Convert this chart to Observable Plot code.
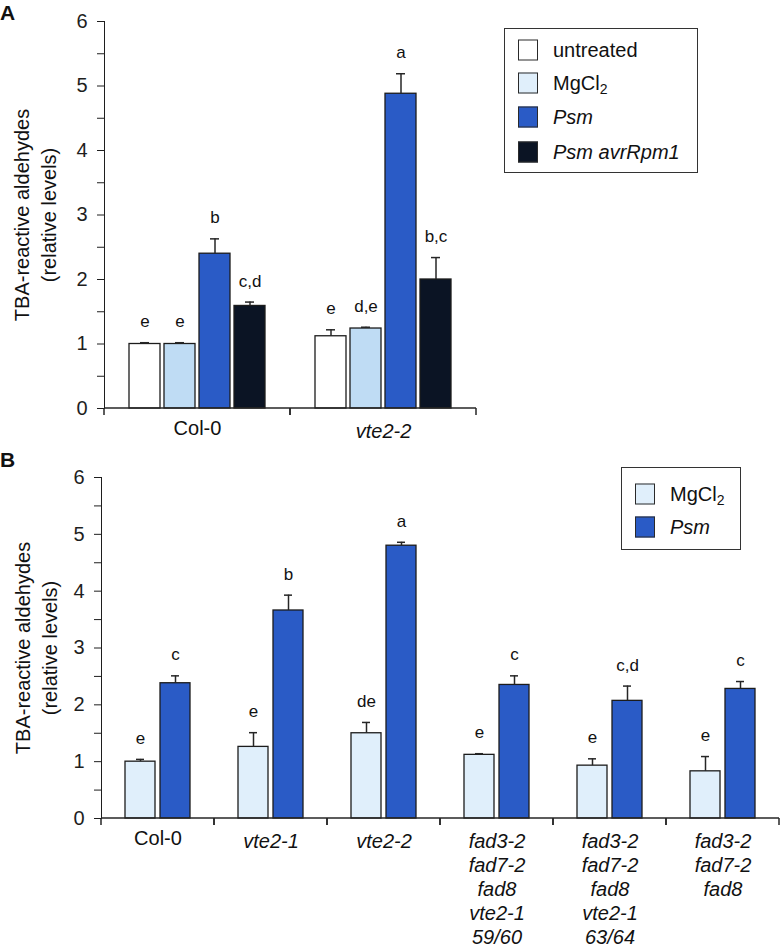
<!DOCTYPE html>
<html><head><meta charset="utf-8">
<script src="https://cdn.jsdelivr.net/npm/d3@7"></script>
<script src="https://cdn.jsdelivr.net/npm/@observablehq/plot@0.6"></script>
<style>
body{margin:0;background:#fff;font-family:"Liberation Sans",Arial,sans-serif;color:#111;}
#wrap{position:relative;width:782px;height:950px;}
.panel svg{display:block;}
.plabel{position:absolute;left:0;font-weight:bold;font-size:21px;line-height:1;}
.legend{position:absolute;border:1.5px solid #333;background:#fff;font-size:20px;color:#111;box-sizing:border-box;}
.legend .row{position:absolute;left:13px;display:flex;align-items:center;transform:translateY(-50%);}
.legend .sw{width:20px;height:21px;border:1.3px solid #2a2a2a;box-sizing:border-box;margin-right:15px;}
.legend sub{font-size:14px;vertical-align:-4px;line-height:0;}
</style></head><body>
<div id="wrap">
  <div id="pa" class="panel"></div>
  <div id="pb" class="panel"></div>
</div>
<script>
// ---------- Panel A data ----------
const groupsA = ["Col-0", "vte2-2"];
const seriesA = ["untreated", "MgCl2", "Psm", "Psm avrRpm1"];
const untreatedA = [1.00, 1.12];
const untreatedErrA = [0.02, 0.10];
const mgA = [1.00, 1.24];
const mgErrA = [0.02, 0.02];
const psmA = [2.40, 4.88];
const psmErrA = [0.23, 0.31];
const avrA = [1.59, 2.00];
const avrErrA = [0.06, 0.34];
const lettersA = {
  "untreated": ["e", "e"],
  "MgCl2": ["e", "d,e"],
  "Psm": ["b", "a"],
  "Psm avrRpm1": ["c,d", "b,c"]
};
const colorsA = ["#ffffff", "#bfdcf4", "#2a5bc6", "#0b1424"];

// ---------- Panel B data ----------
const groupsB = ["Col-0", "vte2-1", "vte2-2",
  "fad3-2\nfad7-2\nfad8\nvte2-1\n59/60",
  "fad3-2\nfad7-2\nfad8\nvte2-1\n63/64",
  "fad3-2\nfad7-2\nfad8"];
const seriesB = ["MgCl2", "Psm"];
const mgB = [1.00, 1.26, 1.50, 1.12, 0.93, 0.83];
const mgErrB = [0.04, 0.25, 0.19, 0.02, 0.12, 0.26];
const psmB = [2.38, 3.66, 4.80, 2.35, 2.07, 2.28];
const psmErrB = [0.13, 0.27, 0.06, 0.16, 0.26, 0.13];
const lettersB = {
  "MgCl2": ["e", "e", "de", "e", "e", "e"],
  "Psm": ["c", "b", "a", "c", "c,d", "c"]
};
const colorsB = ["#e0effb", "#2a5bc6"];

const yTicks = [0, 0.5, 1, 1.5, 2, 2.5, 3, 3.5, 4, 4.5, 5, 5.5, 6];
const yLabel = "TBA-reactive aldehydes\n(relative levels)";

function buildRows(groups, seriesList, vals, errs, letters) {
  const rows = [];
  groups.forEach((g, i) => {
    seriesList.forEach((s, j) => {
      const v = vals[j][i];
      rows.push({group: g, series: s, value: v, hi: v + errs[j][i], letter: letters[s][i]});
    });
  });
  return rows;
}

const rowsA = buildRows(groupsA, seriesA, [untreatedA, mgA, psmA, avrA],
  [untreatedErrA, mgErrA, psmErrA, avrErrA], lettersA);
const rowsB = buildRows(groupsB, seriesB, [mgB, psmB], [mgErrB, psmErrB], lettersB);

// x-axis baseline with boundary ticks, drawn in each facet
function baseAxis(index, scales, values, dims) {
  const {width, marginLeft, marginRight} = dims;
  const y0 = scales.y(0);
  const g = d3.create("svg:g").attr("stroke", "#262626").attr("stroke-width", 1.5).attr("fill", "none");
  const x1 = marginLeft, x2 = width - marginRight;
  g.append("line").attr("x1", x1).attr("x2", x2).attr("y1", y0).attr("y2", y0);
  for (const x of [x1, x2]) {
    g.append("line").attr("x1", x).attr("x2", x).attr("y1", y0).attr("y2", y0 + 7);
  }
  return g.node();
}

function makePlot({groups, seriesList, colors, rows, width, height, margins, paddingInner, paddingOuter, labelDx}) {
  const plain = groups.filter(g => g === "Col-0");
  const ital = groups.filter(g => g !== "Col-0");
  return Plot.plot({
    width, height,
    ...margins,
    style: {fontFamily: "'Liberation Sans', Arial, sans-serif", fontSize: "20px", color: "#1e1e1e", background: "white", overflow: "visible"},
    fx: {domain: groups, padding: 0, axis: null},
    x: {domain: seriesList, paddingInner, paddingOuter, axis: null},
    y: {domain: [0, 6], ticks: yTicks, tickFormat: d => Number.isInteger(d) ? String(d) : "", tickSize: 7, tickPadding: 10, line: true, label: null},
    color: {domain: seriesList, range: colors},
    marks: [
      Plot.barY(rows, {fx: "group", x: "series", y: "value", fill: "series", stroke: "#1c1c1c", strokeWidth: 1.3}),
      Plot.ruleX(rows, {fx: "group", x: "series", y1: "value", y2: "hi", stroke: "#262626", strokeWidth: 1.5}),
      Plot.tickY(rows, {fx: "group", x: "series", y: "hi", stroke: "#262626", strokeWidth: 1.5, insetLeft: 11, insetRight: 11}),
      Plot.text(rows, {fx: "group", x: "series", y: "hi", text: "letter", dy: -21, fontSize: 17, fill: "#111"}),
      baseAxis,
      Plot.text(plain, {fx: d => d, text: d => d, frameAnchor: "bottom", lineAnchor: "top", dy: 12, fontSize: 20, fill: "#111"}),
      Plot.text(ital, {fx: d => d, text: d => d, frameAnchor: "bottom", lineAnchor: "top", dy: 12, fontSize: 20, lineHeight: 1.2, fontStyle: "italic", fill: "#111"}),
      Plot.text([groups[0]], {fx: d => d, text: () => yLabel, frameAnchor: "left", textAnchor: "middle", rotate: -90, dx: labelDx, fontSize: 20, lineHeight: 1.35, fill: "#111"})
    ]
  });
}

const plotA = makePlot({
  groups: groupsA, seriesList: seriesA, colors: colorsA, rows: rowsA,
  width: 782, height: 445,
  margins: {marginLeft: 104, marginRight: 306, marginTop: 21, marginBottom: 37},
  paddingInner: 0.111, paddingOuter: 0.639, labelDx: -71
});
const plotB = makePlot({
  groups: groupsB, seriesList: seriesB, colors: colorsB, rows: rowsB,
  width: 782, height: 505,
  margins: {marginLeft: 100, marginRight: 2, marginTop: 32, marginBottom: 132},
  paddingInner: 0.139, paddingOuter: 0.643, labelDx: -67
});
document.getElementById("pa").appendChild(plotA);
document.getElementById("pb").appendChild(plotB);

// Panel letters and legends (HTML overlays)
const wrap = document.getElementById("wrap");
function addLabel(text, top) {
  const d = document.createElement("div");
  d.className = "plabel"; d.textContent = text; d.style.top = top + "px";
  wrap.appendChild(d);
}
addLabel("A", 2);
addLabel("B", 449);

const legendNames = {
  "untreated": "untreated",
  "MgCl2": "MgCl<sub>2</sub>",
  "Psm": "<i>Psm</i>",
  "Psm avrRpm1": "<i>Psm avrRpm1</i>"
};
function addLegend(seriesList, colors, box, rowCenters) {
  const L = document.createElement("div");
  L.className = "legend";
  Object.assign(L.style, {left: box.left + "px", top: box.top + "px", width: box.width + "px", height: box.height + "px"});
  seriesList.forEach((s, i) => {
    const r = document.createElement("div");
    r.className = "row";
    r.style.top = rowCenters[i] + "px";
    r.innerHTML = `<div class="sw" style="background:${colors[i]}"></div><span>${legendNames[s]}</span>`;
    L.appendChild(r);
  });
  wrap.appendChild(L);
}
addLegend(seriesA, ["#ffffff", "#e0effb", "#2a5bc6", "#0b1424"], {left: 504, top: 28, width: 194, height: 145}, [21, 54, 88, 123]);
addLegend(seriesB, colorsB, {left: 621, top: 467, width: 120, height: 83}, [26, 59]);
</script>
</body></html>
